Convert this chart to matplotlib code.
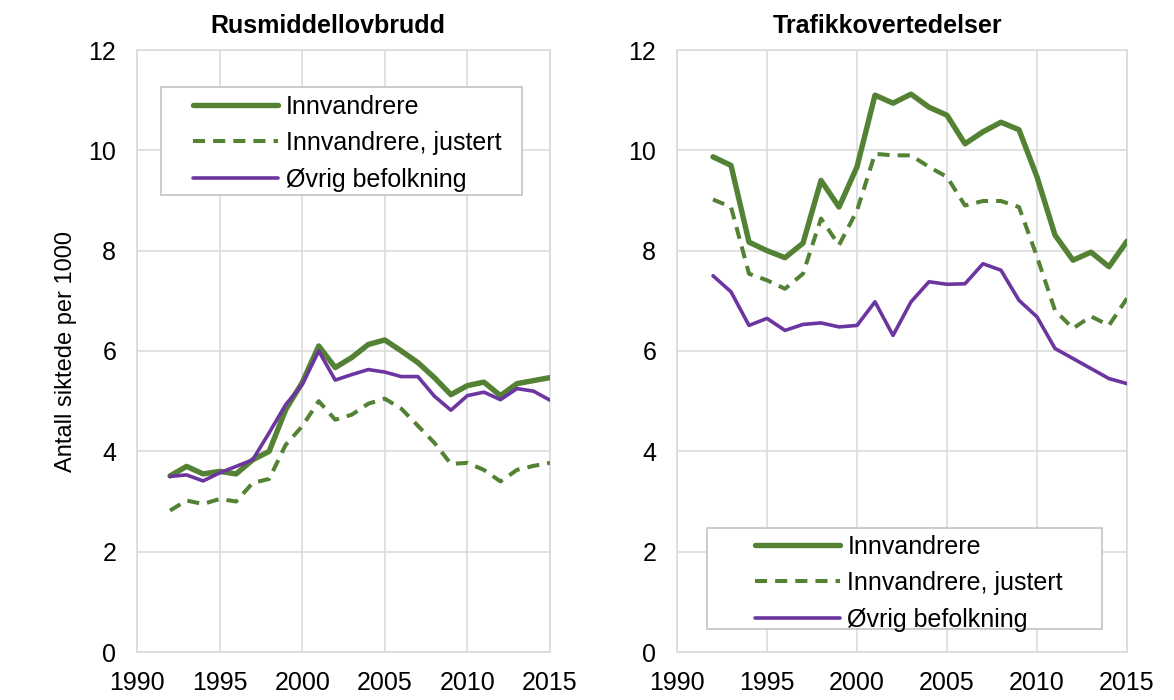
import numpy as np
import matplotlib.pyplot as plt
from matplotlib.patches import Rectangle

plt.rcParams['font.family'] = ['Liberation Sans', 'DejaVu Sans']

years = list(range(1992, 2016))

# Rusmiddellovbrudd
rus_innv = [3.51, 3.70, 3.55, 3.60, 3.55, 3.83, 4.00, 4.83, 5.37, 6.10, 5.67, 5.87,
            6.13, 6.22, 6.00, 5.77, 5.47, 5.13, 5.31, 5.38, 5.11, 5.35, 5.41, 5.47]
rus_just = [2.82, 3.02, 2.95, 3.05, 3.00, 3.37, 3.45, 4.13, 4.50, 5.00, 4.63, 4.73,
            4.95, 5.05, 4.85, 4.51, 4.17, 3.75, 3.77, 3.63, 3.40, 3.63, 3.71, 3.77]
rus_ovrig = [3.50, 3.53, 3.41, 3.57, 3.70, 3.83, 4.37, 4.93, 5.33, 6.00, 5.42, 5.53,
             5.63, 5.58, 5.49, 5.49, 5.10, 4.82, 5.11, 5.18, 5.03, 5.25, 5.20, 5.02]

# Trafikkovertedelser
tra_innv = [9.87, 9.70, 8.17, 8.00, 7.86, 8.15, 9.40, 8.87, 9.67, 11.10, 10.94, 11.12,
            10.86, 10.70, 10.13, 10.37, 10.56, 10.41, 9.47, 8.31, 7.81, 7.97, 7.68, 8.19]
tra_just = [9.02, 8.87, 7.54, 7.41, 7.24, 7.54, 8.64, 8.11, 8.80, 9.93, 9.90, 9.90,
            9.67, 9.47, 8.90, 8.99, 8.99, 8.87, 7.88, 6.81, 6.45, 6.69, 6.51, 7.05]
tra_ovrig = [7.50, 7.18, 6.51, 6.65, 6.41, 6.53, 6.56, 6.48, 6.51, 6.98, 6.31, 6.98,
             7.38, 7.33, 7.34, 7.74, 7.61, 7.01, 6.68, 6.05, 5.85, 5.65, 5.45, 5.35]

labels = ['Innvandrere', 'Innvandrere, justert', 'Øvrig befolkning']
green = '#548235'
purple = '#6c35a0'
gridc = '#d9d9d9'
fs = 18

fig = plt.figure(figsize=(11.74, 7.0), dpi=100)
ax1 = fig.add_axes([137/1174, 48/700, 413/1174, 602/700])
ax2 = fig.add_axes([677/1174, 48/700, 450/1174, 602/700])

panels = [
    (ax1, 'Rusmiddellovbrudd', rus_innv, rus_just, rus_ovrig, 0.462,
     (0.058, 0.759, 0.874, 0.18), (0.1356, 0.926)),
    (ax2, 'Trafikkovertedelser', tra_innv, tra_just, tra_ovrig, 0.467,
     (0.066, 0.038, 0.879, 0.168), (0.173, 0.195)),
]

for ax, title, innv, just, ovrig, tx, rect, anchor in panels:
    ax.plot(years, innv, color=green, lw=3.9, solid_capstyle='round',
            solid_joinstyle='round', label=labels[0], zorder=4)
    ax.plot(years, just, color=green, lw=2.9, linestyle=(0, (3.0, 2.0)),
            label=labels[1], zorder=4)
    ax.plot(years, ovrig, color=purple, lw=2.6, solid_capstyle='round',
            solid_joinstyle='round', label=labels[2], zorder=4)

    ax.set_xlim(1990, 2015)
    ax.set_ylim(0, 12)
    ax.set_xticks(np.arange(1990, 2016, 5))
    ax.set_yticks(np.arange(0, 13, 2))
    ax.grid(True, color=gridc, lw=1.1)
    ax.set_axisbelow(True)
    for s in ax.spines.values():
        s.set_color(gridc)
        s.set_linewidth(1.1)
    ax.tick_params(length=0, labelsize=fs, colors='black')
    ax.tick_params(axis='y', pad=15)
    ax.tick_params(axis='x', pad=14)
    ax.set_title(title, fontsize=fs, fontweight='bold', x=tx, pad=12)

    ax.add_patch(Rectangle(rect[:2], rect[2], rect[3], transform=ax.transAxes,
                           facecolor='white', edgecolor='#bfbfbf', lw=1.1, zorder=3))
    leg = ax.legend(loc='upper left', bbox_to_anchor=anchor, frameon=False,
                    fontsize=fs, borderpad=0, borderaxespad=0,
                    handlelength=3.4, handletextpad=0.3, labelspacing=0.5)
    leg.set_zorder(5)

ax1.set_ylabel('Antall siktede per 1000', fontsize=17)
ax1.yaxis.set_label_coords(-0.145, 0.5)

fig.savefig('out.png', dpi=100, facecolor='white')
